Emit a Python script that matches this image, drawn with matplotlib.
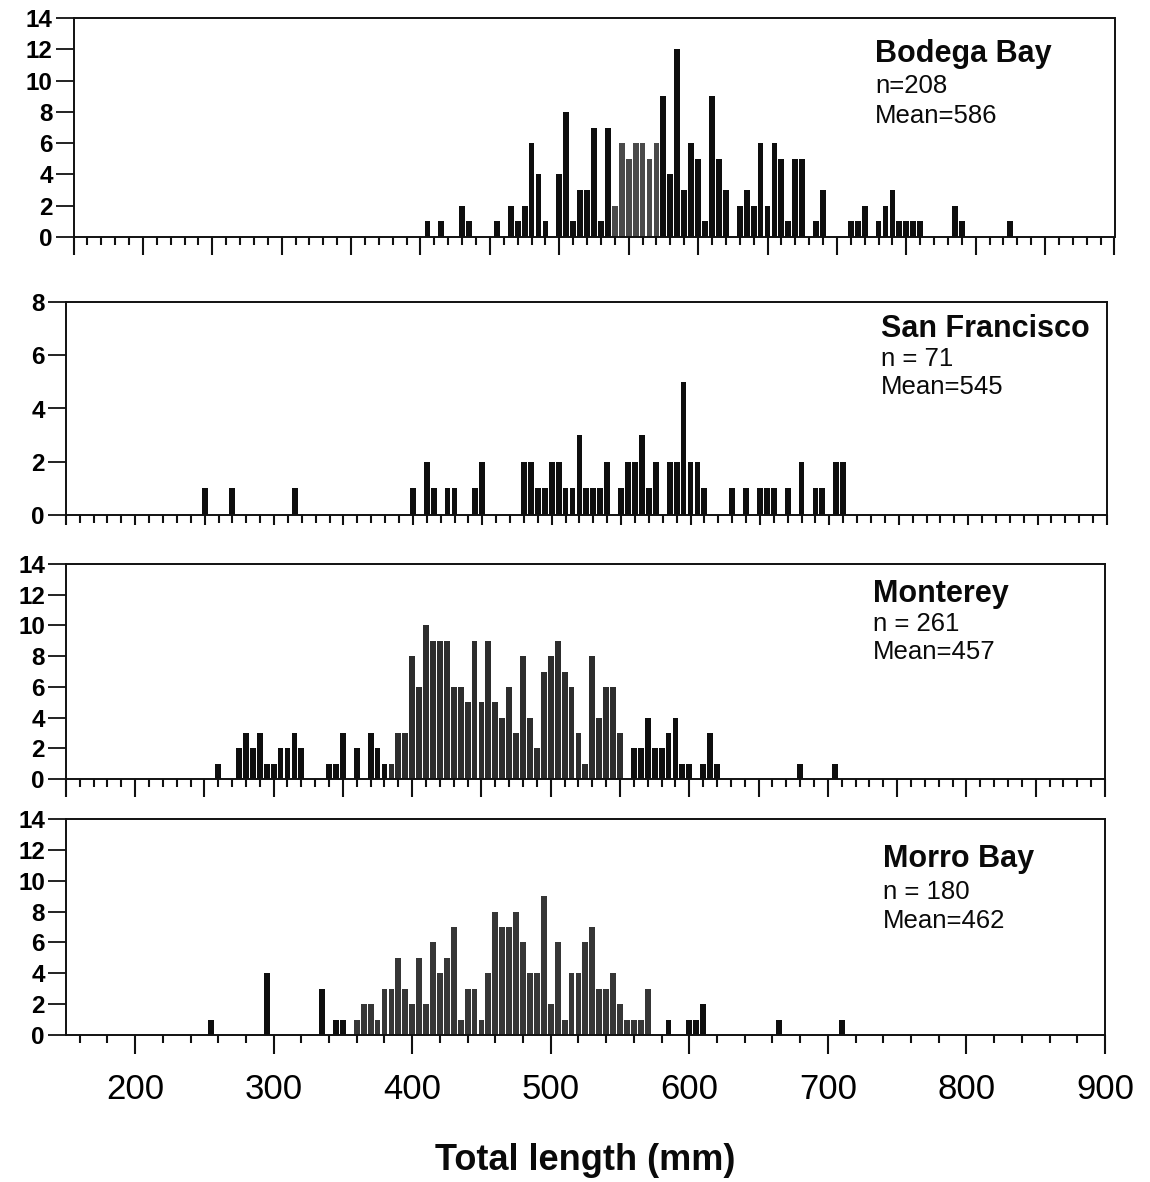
import matplotlib
matplotlib.use('Agg')
import matplotlib.pyplot as plt
from matplotlib.ticker import MultipleLocator

plt.rcParams['font.family'] = ['Liberation Sans', 'DejaVu Sans']

# ---------------- data (5-mm length classes -> number of fish) ----------------
bodega_len = [405, 415, 430, 435, 455, 465, 470, 475, 480, 485, 490, 500, 505, 510, 515,
              520, 525, 530, 535, 540, 545, 550, 555, 560, 565, 570, 575, 580, 585, 590,
              595, 600, 605, 610, 615, 620, 630, 635, 640, 645, 650, 655, 660, 665, 670,
              675, 685, 690, 710, 715, 720, 730, 735, 740, 745, 750, 755, 760, 785, 790, 825]
bodega_cnt = [1, 1, 2, 1, 1, 2, 1, 2, 6, 4, 1, 4, 8, 1, 3,
              3, 7, 1, 7, 2, 6, 5, 6, 6, 5, 6, 9, 4, 12, 3,
              6, 5, 1, 9, 5, 3, 2, 3, 2, 6, 2, 6, 5, 1, 5,
              5, 1, 3, 1, 1, 2, 1, 2, 3, 1, 1, 1, 1, 2, 1, 1]

sf_len = [250, 270, 315, 400, 410, 415, 425, 430, 445, 450, 480, 485, 490, 495, 500,
          505, 510, 515, 520, 525, 530, 535, 540, 550, 555, 560, 565, 570, 575, 585,
          590, 595, 600, 605, 610, 630, 640, 650, 655, 660, 670, 680, 690, 695, 705, 710]
sf_cnt = [1, 1, 1, 1, 2, 1, 1, 1, 1, 2, 2, 2, 1, 1, 2,
          2, 1, 1, 3, 1, 1, 1, 2, 1, 2, 2, 3, 1, 2, 2,
          2, 5, 2, 2, 1, 1, 1, 1, 1, 1, 1, 2, 1, 1, 2, 2]

monterey_len = [260, 275, 280, 285, 290, 295, 300, 305, 310, 315, 320, 340, 345, 350, 360,
                370, 375, 380, 385, 390, 395, 400, 405, 410, 415, 420, 425, 430, 435, 440,
                445, 450, 455, 460, 465, 470, 475, 480, 485, 490, 495, 500, 505, 510, 515,
                520, 525, 530, 535, 540, 545, 550, 560, 565, 570, 575, 580, 585, 590, 595,
                600, 610, 615, 620, 680, 705]
monterey_cnt = [1, 2, 3, 2, 3, 1, 1, 2, 2, 3, 2, 1, 1, 3, 2,
                3, 2, 1, 1, 3, 3, 8, 6, 10, 9, 9, 9, 6, 6, 5,
                9, 5, 9, 5, 4, 6, 3, 8, 4, 2, 7, 8, 9, 7, 6,
                3, 1, 8, 4, 6, 6, 3, 2, 2, 4, 2, 2, 3, 4, 1,
                1, 1, 3, 1, 1, 1]

morro_len = [255, 295, 335, 345, 350, 360, 365, 370, 375, 380, 385, 390, 395, 400, 405,
             410, 415, 420, 425, 430, 435, 440, 445, 450, 455, 460, 465, 470, 475, 480,
             485, 490, 495, 500, 505, 510, 515, 520, 525, 530, 535, 540, 545, 550, 555,
             560, 565, 570, 585, 600, 605, 610, 665, 710]
morro_cnt = [1, 4, 3, 1, 1, 1, 2, 2, 1, 3, 3, 5, 3, 2, 5,
             2, 6, 4, 5, 7, 1, 3, 3, 1, 4, 8, 7, 7, 8, 6,
             4, 4, 9, 2, 6, 1, 4, 4, 6, 7, 3, 3, 4, 2, 1,
             1, 1, 3, 1, 1, 1, 2, 1, 1]

site_names = ["Bodega Bay", "San Francisco", "Monterey", "Morro Bay"]
site_n = ["n=208", "n = 71", "n = 261", "n = 180"]
site_mean = ["Mean=586", "Mean=545", "Mean=457", "Mean=462"]
y_max = [14, 8, 14, 14]
x_tick_labels = [200, 300, 400, 500, 600, 700, 800, 900]
x_label = "Total length (mm)"

# ---------------- layout / style ----------------
W, H, DPI = 1150, 1182, 100
fig = plt.figure(figsize=(W / DPI, H / DPI), dpi=DPI)
fig.patch.set_facecolor('white')

# (left, right, top, bottom) of each frame in pixels
frames = [(73.5, 1114.5, 18, 237),
          (65.8, 1107, 302, 515),
          (65.8, 1105, 564, 779),
          (65.8, 1105, 819, 1035)]
# pixel positions of text block (x, baselines)
text_pos = [(875, (62, 93, 123)),
            (881, (337, 366, 394)),
            (873, (602, 631, 659)),
            (883, (867, 899, 928))]
# range of classes printed in a lighter (scanned grey) tone
grey_ranges = [(538, 572, '#4a4a4a'), None, (383, 552, '#2d2d2d'), (358, 572, '#363636')]
maj_len = [13, 7, 13, 13.5]

data = [(bodega_len, bodega_cnt), (sf_len, sf_cnt),
        (monterey_len, monterey_cnt), (morro_len, morro_cnt)]

for i, ((lens, cnts), (l, r, t, b)) in enumerate(zip(data, frames)):
    ax = fig.add_axes([l / W, 1 - b / H, (r - l) / W, (b - t) / H])
    colors = []
    for x in lens:
        g = grey_ranges[i]
        if g is not None and g[0] <= x <= g[1]:
            colors.append(g[2])
        else:
            colors.append('#0e0e0e')
    ax.bar(lens, cnts, width=4.2, color=colors, linewidth=0, align='center', zorder=2)
    ax.set_xlim(150, 900)
    ax.set_ylim(0, y_max[i])
    ax.yaxis.set_major_locator(MultipleLocator(2))
    if i < 3:
        ax.xaxis.set_major_locator(MultipleLocator(50))
        ax.xaxis.set_minor_locator(MultipleLocator(10))
        ax.tick_params(axis='x', which='both', labelbottom=False)
    else:
        ax.set_xticks(x_tick_labels)
        ax.set_xticklabels([str(v) for v in x_tick_labels])
        ax.xaxis.set_minor_locator(MultipleLocator(20))
    ax.tick_params(axis='x', which='major', direction='out', length=maj_len[i], width=1.5,
                   color='#111111', labelsize=25, pad=14)
    ax.tick_params(axis='x', which='minor', direction='out', length=5.5, width=1.5,
                   color='#111111')
    ax.tick_params(axis='y', which='major', direction='out', length=13, width=1.3,
                   color='#111111', pad=2)
    for lab in ax.get_yticklabels():
        lab.set_fontsize(17.5)
        lab.set_fontweight('bold')
    for sp in ax.spines.values():
        sp.set_linewidth(1.4)
        sp.set_color('#111111')
    ax.set_facecolor('white')

    tx, (b1, b2, b3) = text_pos[i]
    fig.text(tx / W, 1 - b1 / H, site_names[i], fontsize=22, fontweight='bold',
             ha='left', va='baseline', color='#0a0a0a')
    fig.text(tx / W, 1 - b2 / H, site_n[i], fontsize=18.5, ha='left', va='baseline',
             color='#0a0a0a')
    fig.text(tx / W, 1 - b3 / H, site_mean[i], fontsize=18.5, ha='left', va='baseline',
             color='#0a0a0a')

fig.text(585 / W, 1 - 1160 / H, x_label, fontsize=26, fontweight='bold',
         ha='center', va='center', color='#0a0a0a')

fig.savefig('out.png', dpi=DPI, facecolor='white')
